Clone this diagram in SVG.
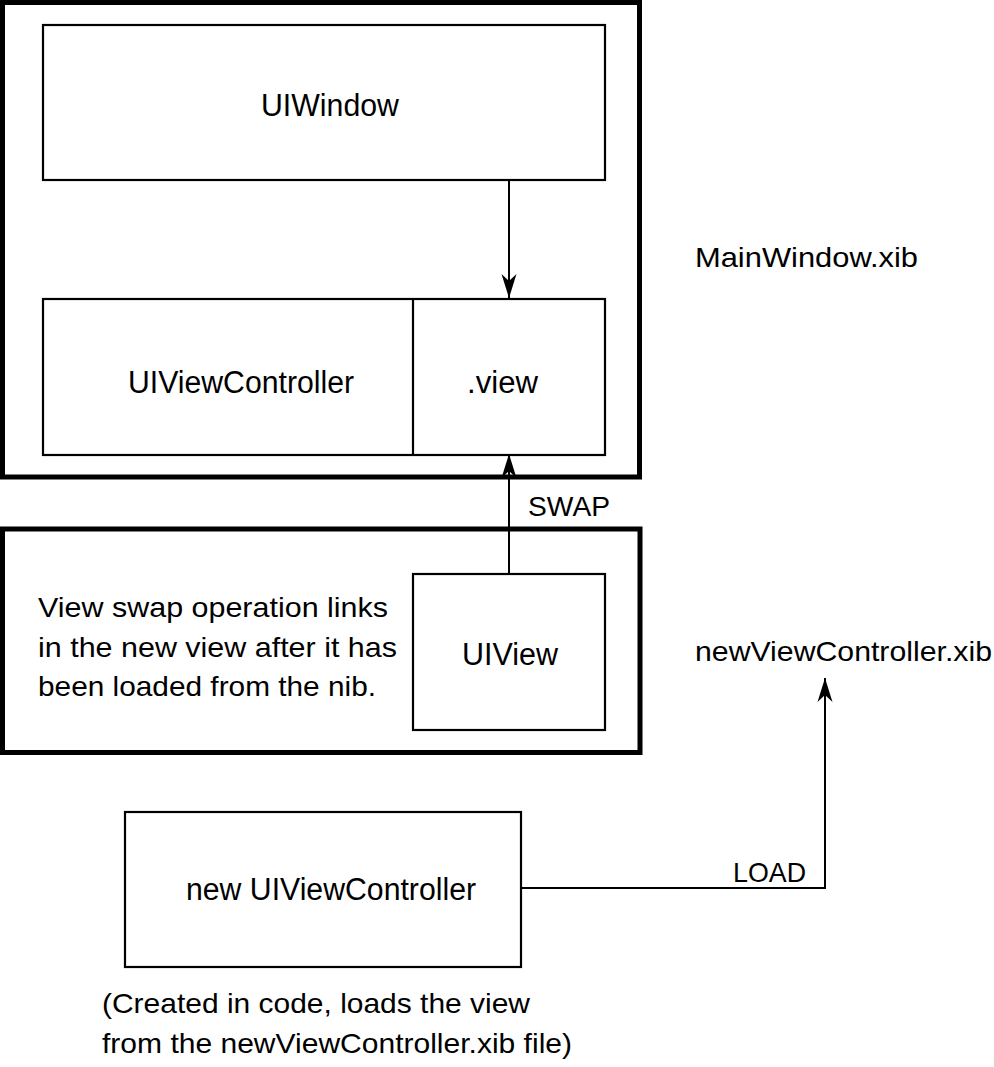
<svg xmlns="http://www.w3.org/2000/svg" width="994" height="1067" viewBox="0 0 994 1067">
<style>
.bg{fill:#fff}
.outer{fill:none;stroke:#000;stroke-width:5}
.box{fill:#fff;stroke:#000;stroke-width:2.2}
.conn{fill:none;stroke:#000;stroke-width:2}
text{font-family:"Liberation Sans Narrow","Liberation Sans",Arial,sans-serif;fill:#000}
.lbl{font-size:31px}
.txt{font-size:28px}
</style>
<defs>
<marker id="arr" viewBox="-25 -9 27 18" refX="0" refY="0" markerWidth="27" markerHeight="18" markerUnits="userSpaceOnUse" orient="auto">
<path d="M0,0 L-24,-7.5 L-17,0 L-24,7.5 Z" fill="#000"/>
</marker>
</defs>
<rect class="bg" x="0" y="0" width="994" height="1067"/>

<g id="mainwindow-container">
<rect class="outer" x="2.5" y="2.5" width="637" height="474.5"/>
</g>
<g id="mainwindow-label">
<text class="txt" x="695" y="267" textLength="223" lengthAdjust="spacingAndGlyphs">MainWindow.xib</text>
</g>
<g id="uiwindow">
<rect class="box" x="43" y="25" width="562" height="155"/>
<text class="lbl" x="261" y="116" textLength="138" lengthAdjust="spacingAndGlyphs">UIWindow</text>
</g>
<g id="uiviewcontroller">
<rect class="box" x="43" y="299" width="562" height="156"/>
<line class="box" x1="413" y1="299" x2="413" y2="456"/>
<text class="lbl" x="128" y="393" textLength="226" lengthAdjust="spacingAndGlyphs">UIViewController</text>
</g>
<g id="view-property">
<text class="lbl" x="467" y="393" textLength="71" lengthAdjust="spacingAndGlyphs">.view</text>
</g>

<g id="swap-container">
<rect class="outer" x="2.5" y="529" width="637.5" height="223.5"/>
<text class="txt" x="38" y="617" textLength="350" lengthAdjust="spacingAndGlyphs">View swap operation links</text>
<text class="txt" x="38" y="657" textLength="359" lengthAdjust="spacingAndGlyphs">in the new view after it has</text>
<text class="txt" x="38" y="696" textLength="338" lengthAdjust="spacingAndGlyphs">been loaded from the nib.</text>
</g>
<g id="uiview">
<rect class="box" x="413" y="574" width="192" height="156"/>
<text class="lbl" x="462" y="665" textLength="96" lengthAdjust="spacingAndGlyphs">UIView</text>
</g>

<g id="newviewcontroller-xib">
<text class="txt" x="695" y="661" textLength="297" lengthAdjust="spacingAndGlyphs">newViewController.xib</text>
</g>

<g id="new-uiviewcontroller">
<rect class="box" x="125" y="812" width="396" height="155"/>
<text class="lbl" x="186" y="900" textLength="290" lengthAdjust="spacingAndGlyphs">new UIViewController</text>
</g>
<g id="caption">
<text class="txt" x="102" y="1013" textLength="428" lengthAdjust="spacingAndGlyphs">(Created in code, loads the view</text>
<text class="txt" x="102" y="1053" textLength="470" lengthAdjust="spacingAndGlyphs">from the newViewController.xib file)</text>
</g>

<g id="connectors">
<path class="conn" d="M509,180 V298" marker-end="url(#arr)"/>
<path class="conn" d="M509,574 V454" marker-end="url(#arr)"/>
<path class="conn" d="M521,888 H825 V678" marker-end="url(#arr)"/>
<text class="txt" x="528" y="516" textLength="82" lengthAdjust="spacingAndGlyphs">SWAP</text>
<text class="txt" x="733" y="882" textLength="73" lengthAdjust="spacingAndGlyphs">LOAD</text>
</g>
</svg>
